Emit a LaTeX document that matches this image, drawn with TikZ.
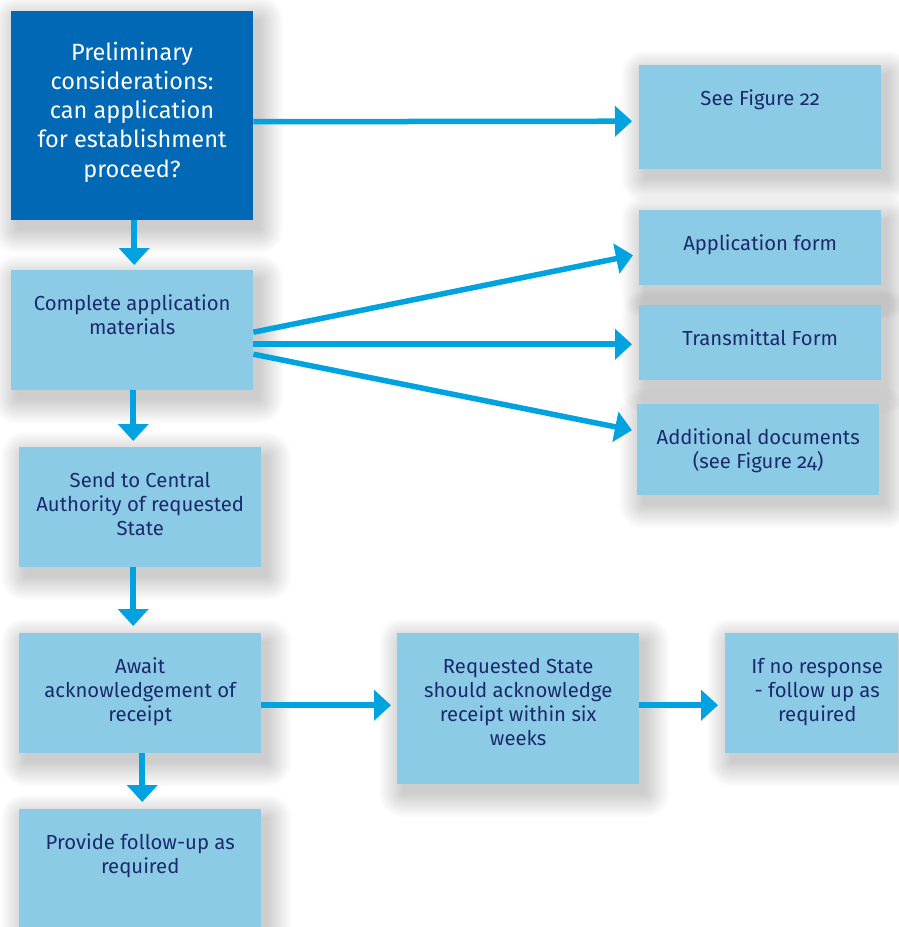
\documentclass[tikz,border=0pt]{standalone}
\usepackage{fontspec}
\setmainfont[Numbers=OldStyle]{Fira Sans}
\usetikzlibrary{arrows.meta,calc,backgrounds}
\definecolor{darkbox}{HTML}{0068B4}
\definecolor{lightbox}{HTML}{8CCBE6}
\definecolor{arrowc}{HTML}{00A3E0}
\definecolor{navytext}{HTML}{1B2A6B}
\newcommand\softshadow[1]{%
  \foreach \r in {0,...,24}{%
    \fill[black,opacity=0.0075,rounded corners=\r pt]
      ($(#1.north west)+(6-\r,9-\r)$) rectangle ($(#1.south east)+(6+\r,9+\r)$);}}
\begin{document}
\begin{tikzpicture}[x=1pt,y=-1pt,
  lbox/.style={fill=lightbox, draw=none, anchor=north west, inner sep=0pt, minimum width=242pt},
  dbox/.style={fill=darkbox, draw=none, anchor=north west, inner sep=0pt, minimum width=242pt},
  ltxt/.style={anchor=base, align=center, inner sep=0pt, text=navytext, font=\fontsize{20.3}{24}\selectfont},
  dtxt/.style={anchor=base, align=center, inner sep=0pt, text=white, font=\fontsize{23.5}{29.2}\selectfont},
  arr/.style={draw=arrowc, line width=5.5pt, -{Triangle[length=17pt,width=30pt]}}
]
\clip (0,0) rectangle (898,927);

% boxes
\node[dbox, minimum height=209pt] (prelim) at (11,11) {};
\node[lbox, minimum height=104pt] (fig22) at (639,65) {};
\node[lbox, minimum height=120pt] (complete) at (11,270) {};
\node[lbox, minimum height=75pt] (appform) at (639,210) {};
\node[lbox, minimum height=75pt] (transm) at (639,305) {};
\node[lbox, minimum height=91pt] (adddoc) at (637,404) {};
\node[lbox, minimum height=120pt] (send) at (19,447) {};
\node[lbox, minimum height=120pt] (await) at (19,633) {};
\node[lbox, minimum height=151pt] (reqst) at (397,633) {};
\node[lbox, minimum height=120pt, minimum width=184pt] (noresp) at (725,633) {};
\node[lbox, minimum height=122pt] (provide) at (19,809) {};

\begin{scope}[on background layer]
  \fill[white] (0,0) rectangle (898,927);
  \foreach \b in {prelim,fig22,complete,appform,transm,adddoc,send,await,reqst,noresp,provide}{\softshadow{\b}}
\end{scope}

% texts (anchor=base is the baseline of the last line)
\node[dtxt] (t-prelim) at (132,177) {Preliminary\\considerations:\\can application\\for establishment\\proceed?};
\node[ltxt] (t-fig22) at ($(fig22.north)+(0,40)$) {See Figure 22};
\node[ltxt] (t-complete) at ($(complete.north)+(0,64)$) {Complete application\\materials};
\node[ltxt] (t-appform) at ($(appform.north)+(0,40)$) {Application form};
\node[ltxt] (t-transm) at ($(transm.north)+(0,40)$) {Transmittal Form};
\node[ltxt] (t-adddoc) at ($(adddoc.north)+(0,64)$) {Additional documents\\(see Figure 24)};
\node[ltxt] (t-send) at ($(send.north)+(0,88)$) {Send to Central\\Authority of requested\\State};
\node[ltxt] (t-await) at ($(await.north)+(0,88)$) {Await\\acknowledgement of\\receipt};
\node[ltxt] (t-reqst) at ($(reqst.north)+(0,112)$) {Requested State\\should acknowledge\\receipt within six\\weeks};
\node[ltxt] (t-noresp) at ($(noresp.north)+(0,88)$) {If no response\\- follow up as\\required};
\node[ltxt] (t-provide) at ($(provide.north)+(0,64)$) {Provide follow-up as\\required};

% connectors
\draw[arr] ($(prelim.east)+(0,6)$) -- ($(fig22.west)+(-7,4)$);
\draw[arr] ($(prelim.south)+(2,0)$) -- ($(complete.north)+(2,-5)$);
\draw[arr] ($(complete.east)+(0,2)$) -- ($(appform.west)+(-6,7.5)$);
\draw[arr] ($(complete.east)+(0,14)$) -- ($(transm.west)+(-7,1.5)$);
\draw[arr] ($(complete.east)+(0,24)$) -- ($(adddoc.west)+(-5,-19.5)$);
\draw[arr] ($(complete.south)+(1,0)$) -- ($(send.north)+(-7,-6)$);
\draw[arr] ($(send.south)+(-7,0)$) -- ($(await.north)+(-7,-7)$);
\draw[arr] ($(await.south)+(2,0)$) -- ($(provide.north)+(2,-7)$);
\draw[arr] ($(await.east)+(0,12)$) -- ($(reqst.west)+(-6,-3.5)$);
\draw[arr] ($(reqst.east)+(0,-3.5)$) -- ($(noresp.west)+(-7,12)$);
\end{tikzpicture}
\end{document}
